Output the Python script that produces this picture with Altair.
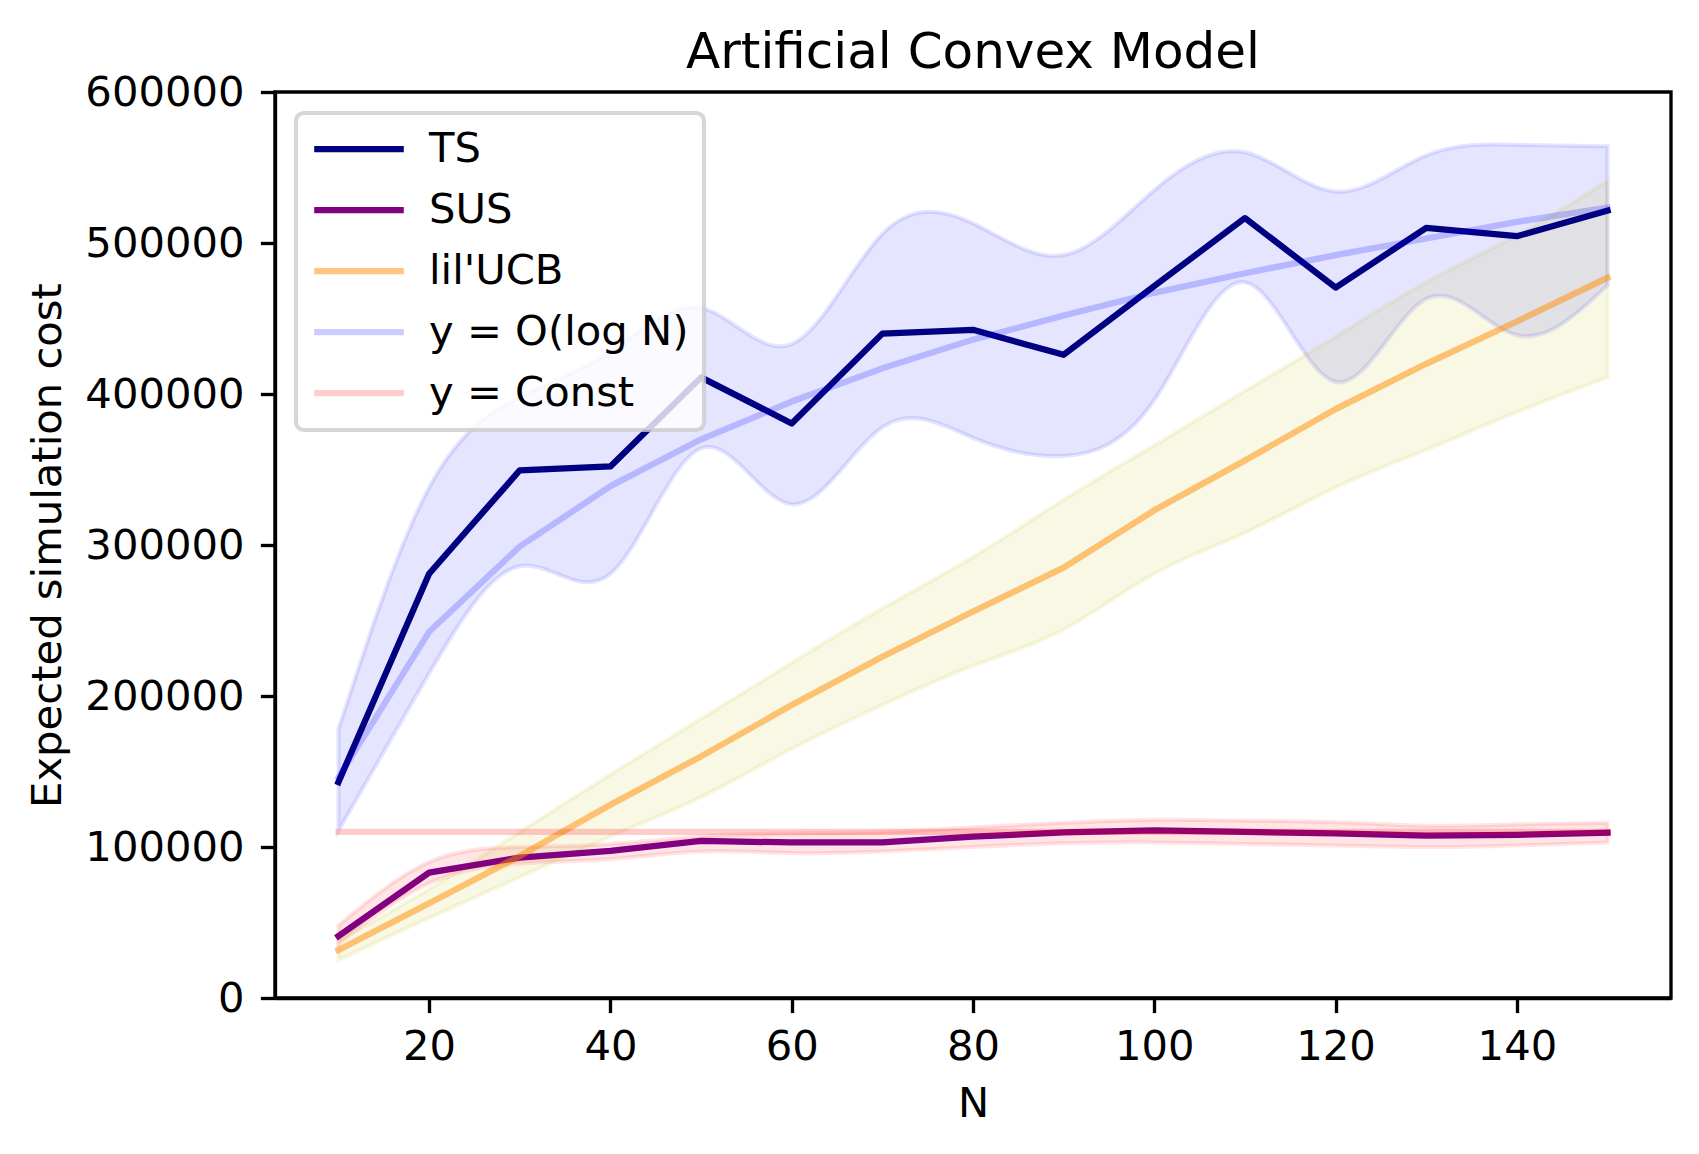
import altair as alt
import pandas as pd

# ---- data ----
N = [10, 20, 30, 40, 50, 60, 70, 80, 90, 100, 110, 120, 130, 140, 150]

TS = [143000, 281000, 349500, 352000, 411000, 380500, 440000, 442500, 426000,
      471500, 516500, 470500, 510000, 504500, 521500]
TS_HI = [178000, 338000, 398000, 428000, 457000, 433000, 506000, 513000, 492000,
         535000, 560000, 534000, 558000, 565000, 564000]
TS_LO = [111000, 215000, 286000, 281000, 364000, 327000, 378000, 371000, 359000,
         396000, 474000, 408000, 463000, 439000, 472000]

SUS = [41000, 83000, 93000, 97500, 104000, 103000, 103000, 106800, 109700,
       111000, 110000, 109000, 107500, 108000, 109500]
SUS_HI = [48000, 90000, 100000, 102000, 107000, 109000, 110000, 113000, 116000,
          118000, 117500, 116500, 114000, 115000, 116000]
SUS_LO = [36000, 76000, 89000, 92000, 97000, 96000, 97000, 100000, 102500,
          103000, 102000, 101000, 100000, 101000, 103000]

UCB = [31800, 62700, 94000, 128000, 160000, 194000, 226000, 256000, 285000,
       323000, 356000, 390000, 420000, 448000, 477000]
UCB_HI = [38000, 72000, 110000, 148000, 185000, 222000, 258000, 292000, 330000,
          366000, 402000, 438000, 474000, 505000, 541000]
UCB_LO = [25000, 53000, 80000, 107000, 133000, 165000, 194000, 220000, 244000,
          281000, 308000, 338000, 363000, 388000, 411000]

LOGN = [146000, 242500, 299000, 339000, 370000, 395000, 417000, 436000, 452000,
        467000, 480000, 492000, 503000, 514000, 523500]
CONST = [110000] * 15

SERIES = ["TS", "SUS", "lil'UCB", "y = O(log N)", "y = Const"]
COLORS = ["#000080", "#800080", "rgba(255,140,0,0.5)", "rgba(0,0,255,0.2)",
          "rgba(255,0,0,0.2)"]
X_TICKS = [20, 40, 60, 80, 100, 120, 140]
Y_TICKS = [0, 100000, 200000, 300000, 400000, 500000, 600000]

# ---- tables ----
line_values = [TS, SUS, UCB, LOGN, CONST]
lines_df = pd.concat(
    [pd.DataFrame({"N": N, "value": v, "series": s}) for s, v in zip(SERIES, line_values)],
    ignore_index=True,
)
bands_df = pd.DataFrame({
    "N": N,
    "TS_lo": TS_LO, "TS_hi": TS_HI,
    "SUS_lo": SUS_LO, "SUS_hi": SUS_HI,
    "UCB_lo": UCB_LO, "UCB_hi": UCB_HI,
})

LW = 6.25      # 1.5 pt at 300 dpi
SPINE = 3.33   # 0.8 pt
FS = 41.7      # 10 pt

x_enc = alt.X(
    "N:Q",
    scale=alt.Scale(domain=[3, 157], nice=False, zero=False),
    axis=alt.Axis(values=X_TICKS, title="N", labelBaseline="alphabetic",
                  labelPadding=46.4, labelFlush=False,
                  titleX=698, titleY=118, titleBaseline="alphabetic"),
)

def y_enc(field):
    return alt.Y(
        field,
        scale=alt.Scale(domain=[0, 600000], nice=False),
        axis=alt.Axis(values=Y_TICKS, format="d", title="Expected simulation cost",
                      labelPadding=16.4, titleX=-215, titleY=453, titleAngle=270,
                      titleBaseline="alphabetic", titleAlign="center"),
    )

def band(lo, hi, color):
    return alt.Chart(bands_df).mark_area(
        interpolate="natural", color=color, fillOpacity=0.1,
        stroke=color, strokeOpacity=0.1, strokeWidth=4.17,
    ).encode(x=x_enc, y=y_enc(f"{lo}:Q"), y2=alt.Y2(f"{hi}:Q"))

bands = [
    band("TS_lo", "TS_hi", "#0000ff"),
    band("SUS_lo", "SUS_hi", "#ff0000"),
    band("UCB_lo", "UCB_hi", "#bfbf00"),
]

lines = alt.Chart(lines_df).mark_line(
    strokeWidth=LW, strokeJoin="round", strokeCap="square"
).encode(
    x=x_enc,
    y=y_enc("value:Q"),
    color=alt.Color(
        "series:N",
        scale=alt.Scale(domain=SERIES, range=COLORS),
        sort=SERIES,
        legend=alt.Legend(title=None),
    ),
)

chart = alt.layer(*bands, lines).properties(
    width=1396,
    height=906,
    title=alt.Title("Artificial Convex Model", offset=-6),
    autosize=alt.AutoSizeParams(type="none"),
    padding={"left": 267, "top": 84, "right": 16, "bottom": 140},
).configure_view(
    stroke="black", strokeWidth=SPINE
).configure_axis(
    grid=False, domainColor="black", domainWidth=SPINE,
    tickColor="black", tickWidth=SPINE, tickSize=14.6,
    labelFont="DejaVu Sans", labelFontSize=FS, labelColor="black",
    titleFont="DejaVu Sans", titleFontSize=FS, titleFontWeight="normal",
    titleColor="black",
).configure_title(
    font="DejaVu Sans", fontSize=50, fontWeight="normal", color="black",
    anchor="middle",
).configure_legend(
    orient="top-left", offset=21, padding=15,
    fillColor="rgba(255,255,255,0.8)", strokeColor="rgba(204,204,204,0.8)",
    strokeWidth=4.17, cornerRadius=8,
    labelFont="DejaVu Sans", labelFontSize=FS, labelColor="black",
    labelLimit=0, labelOffset=22, rowPadding=18, clipHeight=42,
    symbolType="stroke", symbolSize=8028, symbolStrokeWidth=LW,
)

chart.save("out.html", embed_options={"renderer": "svg", "actions": False})
